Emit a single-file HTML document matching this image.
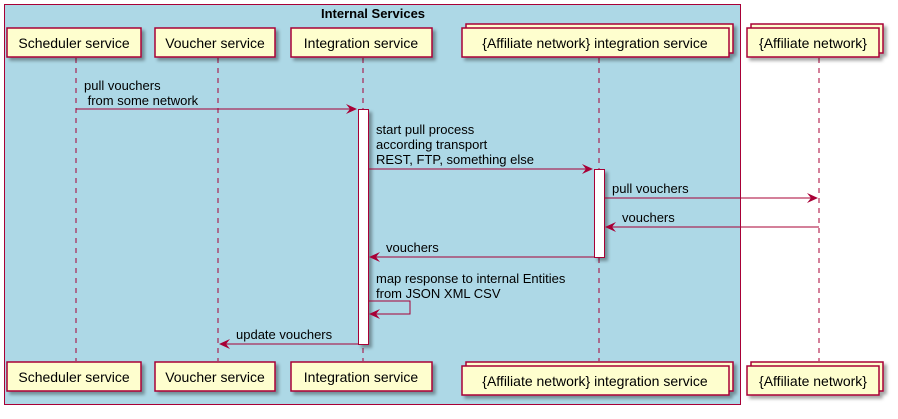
<!DOCTYPE html>
<html><head><meta charset="utf-8"><style>body{margin:0;background:#fff}text{white-space:pre}</style></head><body>
<svg width="898" height="414" viewBox="0 0 898 414" xmlns="http://www.w3.org/2000/svg" font-family="Liberation Sans, DejaVu Sans, sans-serif" font-size="13">
<defs><filter id="sh" x="-10%" y="-10%" width="130%" height="150%"><feOffset dx="3" dy="3" in="SourceAlpha"/><feGaussianBlur stdDeviation="1.5"/><feColorMatrix values="0 0 0 0 0 0 0 0 0 0 0 0 0 0 0 0 0 0 .35 0"/><feMerge><feMergeNode/><feMergeNode in="SourceGraphic"/></feMerge></filter></defs>
<rect x="4.5" y="4.5" width="736" height="400" fill="#ADD8E6" stroke="#A80036"/>
<text x="373" y="18" text-anchor="middle" font-weight="bold">Internal Services</text>
<g stroke="#A80036" stroke-dasharray="5,5">
<line x1="76" y1="58" x2="76" y2="361"/><line x1="218" y1="58" x2="218" y2="361"/><line x1="363" y1="58" x2="363" y2="361"/><line x1="599" y1="58" x2="599" y2="361"/><line x1="819" y1="58" x2="819" y2="361"/>
</g>
<g fill="#FEFECE" stroke="#A80036" stroke-width="1.5" filter="url(#sh)">
<rect x="7" y="28" width="134" height="29"/><rect x="155" y="28" width="120" height="29"/><rect x="291" y="28" width="141" height="29"/>
<rect x="466" y="24" width="267" height="29"/><rect x="462" y="28" width="267" height="29"/>
<rect x="751" y="24" width="132" height="29"/><rect x="747" y="28" width="132" height="29"/>
<rect x="7" y="362" width="134" height="29"/><rect x="155" y="362" width="120" height="29"/><rect x="291" y="362" width="141" height="29"/>
<rect x="466" y="362" width="267" height="29"/><rect x="462" y="366" width="267" height="29"/>
<rect x="751" y="362" width="132" height="29"/><rect x="747" y="366" width="132" height="29"/>
</g>
<g fill="#000" font-size="14" text-anchor="middle">
<text x="74" y="48">Scheduler service</text><text x="215" y="48">Voucher service</text><text x="361" y="48">Integration service</text><text x="595" y="48">{Affiliate network} integration service</text><text x="813" y="48">{Affiliate network}</text>
<text x="74" y="382">Scheduler service</text><text x="215" y="382">Voucher service</text><text x="361" y="382">Integration service</text><text x="595" y="386">{Affiliate network} integration service</text><text x="813" y="386">{Affiliate network}</text>
</g>
<g fill="#fff" stroke="#A80036" filter="url(#sh)">
<rect x="358.5" y="109.5" width="10" height="235"/><rect x="594.5" y="169.5" width="10" height="88"/>
</g>
<g stroke="#A80036" fill="none">
<line x1="76" y1="109" x2="356" y2="109"/><line x1="368" y1="169" x2="592" y2="169"/><line x1="604" y1="198" x2="817" y2="198"/><line x1="819" y1="227" x2="606" y2="227"/><line x1="594" y1="257" x2="370" y2="257"/>
<polyline points="368,301 410,301 410,314 370,314"/><line x1="358" y1="344" x2="220" y2="344"/>
</g>
<g fill="#A80036">
<polygon points="357,109 346,104 350,109 346,114"/><polygon points="593,169 582,164 586,169 582,174"/><polygon points="818,198 807,193 811,198 807,203"/>
<polygon points="605,227 616,222 612,227 616,232"/><polygon points="369,257 380,252 376,257 380,262"/><polygon points="369,314 380,309 376,314 380,319"/><polygon points="219,344 230,339 226,344 230,349"/>
</g>
<g fill="#000">
<text x="84" y="90">pull vouchers</text><text x="84" y="105" xml:space="preserve"> from some network</text>
<text x="376" y="134">start pull process</text><text x="376" y="149">according transport</text><text x="376" y="164">REST, FTP, something else</text>
<text x="612" y="193">pull vouchers</text><text x="622" y="222">vouchers</text><text x="386" y="252">vouchers</text>
<text x="376" y="283">map response to internal Entities</text><text x="376" y="298">from JSON XML CSV</text>
<text x="236" y="339">update vouchers</text>
</g>
</svg>
</body></html>
